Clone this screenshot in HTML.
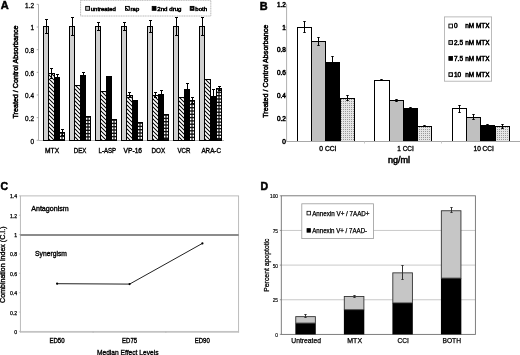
<!DOCTYPE html><html><head><meta charset="utf-8"><style>html,body{margin:0;padding:0;background:#fff;width:520px;height:355px;overflow:hidden}svg{display:block;filter:blur(0.45px)}text{font-family:"Liberation Sans", sans-serif;stroke:#000;stroke-width:0.5px;paint-order:stroke}</style></head><body>
<svg width="520" height="355" viewBox="0 0 520 355">
<defs><pattern id="hatch" patternUnits="userSpaceOnUse" x="0" y="0" width="4" height="4"><rect width="4" height="4" fill="#000"/><path d="M0,0 L1.3,0 L4,2.70 L4,4 L2.70,4 L0,1.3 Z M2.70,0 L4,0 L4,1.3 Z M0,2.70 L1.3,4 L0,4 Z" fill="#fff"/></pattern><pattern id="dotsA" patternUnits="userSpaceOnUse" x="0" y="0" width="2" height="2"><rect width="2" height="2" fill="#fff"/><rect width="1" height="1" fill="#000"/><rect x="1" y="1" width="1" height="1" fill="#555"/></pattern><pattern id="dotsB" patternUnits="userSpaceOnUse" x="0" y="0" width="2" height="2"><rect width="2" height="2" fill="#e6e6e6"/><rect x="1" y="1" width="1" height="1" fill="#9a9a9a"/></pattern></defs>
<rect width="520" height="355" fill="#fff"/>
<text x="0.70" y="8.60" font-size="11.0" font-weight="bold">A</text>
<line x1="38.50" y1="4.30" x2="38.50" y2="140.30" stroke="#9a9a9a" stroke-width="0.8"/>
<line x1="38.50" y1="140.50" x2="224.00" y2="140.50" stroke="#b8b8b8" stroke-width="1.0"/>
<line x1="36.70" y1="140.30" x2="38.50" y2="140.30" stroke="#9a9a9a" stroke-width="0.8"/>
<text x="34.00" y="143.60" font-size="6.4" text-anchor="end" style="stroke-width:0.3px">0</text>
<line x1="36.70" y1="117.64" x2="38.50" y2="117.64" stroke="#9a9a9a" stroke-width="0.8"/>
<text x="34.00" y="120.94" font-size="6.4" text-anchor="end" style="stroke-width:0.3px">0.2</text>
<line x1="36.70" y1="94.98" x2="38.50" y2="94.98" stroke="#9a9a9a" stroke-width="0.8"/>
<text x="34.00" y="98.28" font-size="6.4" text-anchor="end" style="stroke-width:0.3px">0.4</text>
<line x1="36.70" y1="72.32" x2="38.50" y2="72.32" stroke="#9a9a9a" stroke-width="0.8"/>
<text x="34.00" y="75.62" font-size="6.4" text-anchor="end" style="stroke-width:0.3px">0.6</text>
<line x1="36.70" y1="49.66" x2="38.50" y2="49.66" stroke="#9a9a9a" stroke-width="0.8"/>
<text x="34.00" y="52.96" font-size="6.4" text-anchor="end" style="stroke-width:0.3px">0.8</text>
<line x1="36.70" y1="27.00" x2="38.50" y2="27.00" stroke="#9a9a9a" stroke-width="0.8"/>
<text x="34.00" y="30.30" font-size="6.4" text-anchor="end" style="stroke-width:0.3px">1</text>
<line x1="36.70" y1="4.34" x2="38.50" y2="4.34" stroke="#9a9a9a" stroke-width="0.8"/>
<text x="34.00" y="7.64" font-size="6.4" text-anchor="end" style="stroke-width:0.3px">1.2</text>
<text x="17.70" y="72.00" font-size="7.0" text-anchor="middle" textLength="93.00" lengthAdjust="spacingAndGlyphs" transform="rotate(-90 17.70 72.00)">Treated / Control Absorbance</text>
<rect x="43.50" y="26.50" width="5.00" height="114.00" fill="#d0d0d0" stroke="#000" stroke-width="1.0"/>
<rect x="48.50" y="73.50" width="6.00" height="67.00" fill="url(#hatch)" stroke="#000" stroke-width="1.0"/>
<rect x="54.50" y="77.50" width="5.00" height="63.00" fill="#000" stroke="#000" stroke-width="1.0"/>
<rect x="59.50" y="132.50" width="5.00" height="8.00" fill="#111" stroke="#000" stroke-width="1.0"/>
<rect x="60.00" y="133.80" width="1.4" height="1.9" fill="#fff"/>
<rect x="62.60" y="133.80" width="1.4" height="1.9" fill="#fff"/>
<rect x="60.00" y="137.10" width="1.4" height="1.9" fill="#fff"/>
<rect x="62.60" y="137.10" width="1.4" height="1.9" fill="#fff"/>
<path d="M46.50 19.50V33.50M45.00 19.50H48.00M45.00 33.50H48.00" stroke="#000" stroke-width="1" fill="none"/>
<path d="M51.50 68.50V78.50M50.00 68.50H53.00M50.00 78.50H53.00" stroke="#000" stroke-width="1" fill="none"/>
<path d="M57.50 74.50V80.50M56.00 74.50H59.00M56.00 80.50H59.00" stroke="#000" stroke-width="1" fill="none"/>
<path d="M62.50 129.50V135.50M61.00 129.50H64.00M61.00 135.50H64.00" stroke="#000" stroke-width="1" fill="none"/>
<text x="52.10" y="152.50" font-size="6.6" text-anchor="middle" textLength="14.00" lengthAdjust="spacingAndGlyphs" style="stroke-width:0.35px">MTX</text>
<rect x="69.50" y="26.50" width="5.00" height="114.00" fill="#d0d0d0" stroke="#000" stroke-width="1.0"/>
<rect x="74.50" y="85.50" width="6.00" height="55.00" fill="url(#hatch)" stroke="#000" stroke-width="1.0"/>
<rect x="80.50" y="75.50" width="5.00" height="65.00" fill="#000" stroke="#000" stroke-width="1.0"/>
<rect x="85.50" y="116.50" width="5.00" height="24.00" fill="#111" stroke="#000" stroke-width="1.0"/>
<rect x="86.00" y="117.80" width="1.4" height="1.9" fill="#fff"/>
<rect x="88.60" y="117.80" width="1.4" height="1.9" fill="#fff"/>
<rect x="86.00" y="121.10" width="1.4" height="1.9" fill="#fff"/>
<rect x="88.60" y="121.10" width="1.4" height="1.9" fill="#fff"/>
<rect x="86.00" y="124.40" width="1.4" height="1.9" fill="#fff"/>
<rect x="88.60" y="124.40" width="1.4" height="1.9" fill="#fff"/>
<rect x="86.00" y="127.70" width="1.4" height="1.9" fill="#fff"/>
<rect x="88.60" y="127.70" width="1.4" height="1.9" fill="#fff"/>
<rect x="86.00" y="131.00" width="1.4" height="1.9" fill="#fff"/>
<rect x="88.60" y="131.00" width="1.4" height="1.9" fill="#fff"/>
<rect x="86.00" y="134.30" width="1.4" height="1.9" fill="#fff"/>
<rect x="88.60" y="134.30" width="1.4" height="1.9" fill="#fff"/>
<rect x="86.00" y="137.60" width="1.4" height="1.9" fill="#fff"/>
<rect x="88.60" y="137.60" width="1.4" height="1.9" fill="#fff"/>
<path d="M72.50 17.50V35.50M71.00 17.50H74.00M71.00 35.50H74.00" stroke="#000" stroke-width="1" fill="none"/>
<path d="M83.50 72.50V78.50M82.00 72.50H85.00M82.00 78.50H85.00" stroke="#000" stroke-width="1" fill="none"/>
<text x="80.00" y="152.50" font-size="6.6" text-anchor="middle" textLength="12.50" lengthAdjust="spacingAndGlyphs" style="stroke-width:0.35px">DEX</text>
<rect x="95.50" y="26.50" width="5.00" height="114.00" fill="#d0d0d0" stroke="#000" stroke-width="1.0"/>
<rect x="100.50" y="91.50" width="6.00" height="49.00" fill="url(#hatch)" stroke="#000" stroke-width="1.0"/>
<rect x="106.50" y="76.50" width="5.00" height="64.00" fill="#000" stroke="#000" stroke-width="1.0"/>
<rect x="111.50" y="119.50" width="5.00" height="21.00" fill="#111" stroke="#000" stroke-width="1.0"/>
<rect x="112.00" y="120.80" width="1.4" height="1.9" fill="#fff"/>
<rect x="114.60" y="120.80" width="1.4" height="1.9" fill="#fff"/>
<rect x="112.00" y="124.10" width="1.4" height="1.9" fill="#fff"/>
<rect x="114.60" y="124.10" width="1.4" height="1.9" fill="#fff"/>
<rect x="112.00" y="127.40" width="1.4" height="1.9" fill="#fff"/>
<rect x="114.60" y="127.40" width="1.4" height="1.9" fill="#fff"/>
<rect x="112.00" y="130.70" width="1.4" height="1.9" fill="#fff"/>
<rect x="114.60" y="130.70" width="1.4" height="1.9" fill="#fff"/>
<rect x="112.00" y="134.00" width="1.4" height="1.9" fill="#fff"/>
<rect x="114.60" y="134.00" width="1.4" height="1.9" fill="#fff"/>
<rect x="112.00" y="137.30" width="1.4" height="1.9" fill="#fff"/>
<rect x="114.60" y="137.30" width="1.4" height="1.9" fill="#fff"/>
<path d="M98.50 22.50V30.50M97.00 22.50H100.00M97.00 30.50H100.00" stroke="#000" stroke-width="1" fill="none"/>
<text x="107.30" y="152.50" font-size="6.6" text-anchor="middle" textLength="17.50" lengthAdjust="spacingAndGlyphs" style="stroke-width:0.35px">L-ASP</text>
<rect x="121.50" y="26.50" width="5.00" height="114.00" fill="#d0d0d0" stroke="#000" stroke-width="1.0"/>
<rect x="126.50" y="95.50" width="6.00" height="45.00" fill="url(#hatch)" stroke="#000" stroke-width="1.0"/>
<rect x="132.50" y="100.50" width="5.00" height="40.00" fill="#000" stroke="#000" stroke-width="1.0"/>
<rect x="137.50" y="122.50" width="5.00" height="18.00" fill="#111" stroke="#000" stroke-width="1.0"/>
<rect x="138.00" y="123.80" width="1.4" height="1.9" fill="#fff"/>
<rect x="140.60" y="123.80" width="1.4" height="1.9" fill="#fff"/>
<rect x="138.00" y="127.10" width="1.4" height="1.9" fill="#fff"/>
<rect x="140.60" y="127.10" width="1.4" height="1.9" fill="#fff"/>
<rect x="138.00" y="130.40" width="1.4" height="1.9" fill="#fff"/>
<rect x="140.60" y="130.40" width="1.4" height="1.9" fill="#fff"/>
<rect x="138.00" y="133.70" width="1.4" height="1.9" fill="#fff"/>
<rect x="140.60" y="133.70" width="1.4" height="1.9" fill="#fff"/>
<rect x="138.00" y="137.00" width="1.4" height="1.9" fill="#fff"/>
<rect x="140.60" y="137.00" width="1.4" height="1.9" fill="#fff"/>
<path d="M124.50 22.50V30.50M123.00 22.50H126.00M123.00 30.50H126.00" stroke="#000" stroke-width="1" fill="none"/>
<path d="M129.50 92.50V97.50M128.00 92.50H131.00M128.00 97.50H131.00" stroke="#000" stroke-width="1" fill="none"/>
<text x="132.80" y="152.50" font-size="6.6" text-anchor="middle" textLength="18.50" lengthAdjust="spacingAndGlyphs" style="stroke-width:0.35px">VP-16</text>
<rect x="147.50" y="26.50" width="5.00" height="114.00" fill="#d0d0d0" stroke="#000" stroke-width="1.0"/>
<rect x="152.50" y="95.50" width="6.00" height="45.00" fill="url(#hatch)" stroke="#000" stroke-width="1.0"/>
<rect x="158.50" y="94.50" width="5.00" height="46.00" fill="#000" stroke="#000" stroke-width="1.0"/>
<rect x="163.50" y="114.50" width="5.00" height="26.00" fill="#111" stroke="#000" stroke-width="1.0"/>
<rect x="164.00" y="115.80" width="1.4" height="1.9" fill="#fff"/>
<rect x="166.60" y="115.80" width="1.4" height="1.9" fill="#fff"/>
<rect x="164.00" y="119.10" width="1.4" height="1.9" fill="#fff"/>
<rect x="166.60" y="119.10" width="1.4" height="1.9" fill="#fff"/>
<rect x="164.00" y="122.40" width="1.4" height="1.9" fill="#fff"/>
<rect x="166.60" y="122.40" width="1.4" height="1.9" fill="#fff"/>
<rect x="164.00" y="125.70" width="1.4" height="1.9" fill="#fff"/>
<rect x="166.60" y="125.70" width="1.4" height="1.9" fill="#fff"/>
<rect x="164.00" y="129.00" width="1.4" height="1.9" fill="#fff"/>
<rect x="166.60" y="129.00" width="1.4" height="1.9" fill="#fff"/>
<rect x="164.00" y="132.30" width="1.4" height="1.9" fill="#fff"/>
<rect x="166.60" y="132.30" width="1.4" height="1.9" fill="#fff"/>
<rect x="164.00" y="135.60" width="1.4" height="1.9" fill="#fff"/>
<rect x="166.60" y="135.60" width="1.4" height="1.9" fill="#fff"/>
<path d="M150.50 20.50V32.50M149.00 20.50H152.00M149.00 32.50H152.00" stroke="#000" stroke-width="1" fill="none"/>
<path d="M155.50 92.50V97.50M154.00 92.50H157.00M154.00 97.50H157.00" stroke="#000" stroke-width="1" fill="none"/>
<path d="M161.50 90.50V99.50M160.00 90.50H163.00M160.00 99.50H163.00" stroke="#000" stroke-width="1" fill="none"/>
<text x="158.30" y="152.50" font-size="6.6" text-anchor="middle" textLength="13.60" lengthAdjust="spacingAndGlyphs" style="stroke-width:0.35px">DOX</text>
<rect x="173.50" y="26.50" width="5.00" height="114.00" fill="#d0d0d0" stroke="#000" stroke-width="1.0"/>
<rect x="178.50" y="97.50" width="6.00" height="43.00" fill="url(#hatch)" stroke="#000" stroke-width="1.0"/>
<rect x="184.50" y="89.50" width="5.00" height="51.00" fill="#000" stroke="#000" stroke-width="1.0"/>
<rect x="189.50" y="100.50" width="5.00" height="40.00" fill="#111" stroke="#000" stroke-width="1.0"/>
<rect x="190.00" y="101.80" width="1.4" height="1.9" fill="#fff"/>
<rect x="192.60" y="101.80" width="1.4" height="1.9" fill="#fff"/>
<rect x="190.00" y="105.10" width="1.4" height="1.9" fill="#fff"/>
<rect x="192.60" y="105.10" width="1.4" height="1.9" fill="#fff"/>
<rect x="190.00" y="108.40" width="1.4" height="1.9" fill="#fff"/>
<rect x="192.60" y="108.40" width="1.4" height="1.9" fill="#fff"/>
<rect x="190.00" y="111.70" width="1.4" height="1.9" fill="#fff"/>
<rect x="192.60" y="111.70" width="1.4" height="1.9" fill="#fff"/>
<rect x="190.00" y="115.00" width="1.4" height="1.9" fill="#fff"/>
<rect x="192.60" y="115.00" width="1.4" height="1.9" fill="#fff"/>
<rect x="190.00" y="118.30" width="1.4" height="1.9" fill="#fff"/>
<rect x="192.60" y="118.30" width="1.4" height="1.9" fill="#fff"/>
<rect x="190.00" y="121.60" width="1.4" height="1.9" fill="#fff"/>
<rect x="192.60" y="121.60" width="1.4" height="1.9" fill="#fff"/>
<rect x="190.00" y="124.90" width="1.4" height="1.9" fill="#fff"/>
<rect x="192.60" y="124.90" width="1.4" height="1.9" fill="#fff"/>
<rect x="190.00" y="128.20" width="1.4" height="1.9" fill="#fff"/>
<rect x="192.60" y="128.20" width="1.4" height="1.9" fill="#fff"/>
<rect x="190.00" y="131.50" width="1.4" height="1.9" fill="#fff"/>
<rect x="192.60" y="131.50" width="1.4" height="1.9" fill="#fff"/>
<rect x="190.00" y="134.80" width="1.4" height="1.9" fill="#fff"/>
<rect x="192.60" y="134.80" width="1.4" height="1.9" fill="#fff"/>
<rect x="190.00" y="138.10" width="1.4" height="1.9" fill="#fff"/>
<rect x="192.60" y="138.10" width="1.4" height="1.9" fill="#fff"/>
<path d="M176.50 17.50V35.50M175.00 17.50H178.00M175.00 35.50H178.00" stroke="#000" stroke-width="1" fill="none"/>
<path d="M187.50 83.50V95.50M186.00 83.50H189.00M186.00 95.50H189.00" stroke="#000" stroke-width="1" fill="none"/>
<path d="M192.50 97.50V103.50M191.00 97.50H194.00M191.00 103.50H194.00" stroke="#000" stroke-width="1" fill="none"/>
<text x="184.00" y="152.50" font-size="6.6" text-anchor="middle" textLength="12.90" lengthAdjust="spacingAndGlyphs" style="stroke-width:0.35px">VCR</text>
<rect x="199.50" y="26.50" width="5.00" height="114.00" fill="#d0d0d0" stroke="#000" stroke-width="1.0"/>
<rect x="204.50" y="79.50" width="6.00" height="61.00" fill="url(#hatch)" stroke="#000" stroke-width="1.0"/>
<rect x="210.50" y="96.50" width="6.00" height="44.00" fill="#000" stroke="#000" stroke-width="1.0"/>
<rect x="216.50" y="88.50" width="5.00" height="52.00" fill="#111" stroke="#000" stroke-width="1.0"/>
<rect x="217.00" y="89.80" width="1.4" height="1.9" fill="#fff"/>
<rect x="219.60" y="89.80" width="1.4" height="1.9" fill="#fff"/>
<rect x="217.00" y="93.10" width="1.4" height="1.9" fill="#fff"/>
<rect x="219.60" y="93.10" width="1.4" height="1.9" fill="#fff"/>
<rect x="217.00" y="96.40" width="1.4" height="1.9" fill="#fff"/>
<rect x="219.60" y="96.40" width="1.4" height="1.9" fill="#fff"/>
<rect x="217.00" y="99.70" width="1.4" height="1.9" fill="#fff"/>
<rect x="219.60" y="99.70" width="1.4" height="1.9" fill="#fff"/>
<rect x="217.00" y="103.00" width="1.4" height="1.9" fill="#fff"/>
<rect x="219.60" y="103.00" width="1.4" height="1.9" fill="#fff"/>
<rect x="217.00" y="106.30" width="1.4" height="1.9" fill="#fff"/>
<rect x="219.60" y="106.30" width="1.4" height="1.9" fill="#fff"/>
<rect x="217.00" y="109.60" width="1.4" height="1.9" fill="#fff"/>
<rect x="219.60" y="109.60" width="1.4" height="1.9" fill="#fff"/>
<rect x="217.00" y="112.90" width="1.4" height="1.9" fill="#fff"/>
<rect x="219.60" y="112.90" width="1.4" height="1.9" fill="#fff"/>
<rect x="217.00" y="116.20" width="1.4" height="1.9" fill="#fff"/>
<rect x="219.60" y="116.20" width="1.4" height="1.9" fill="#fff"/>
<rect x="217.00" y="119.50" width="1.4" height="1.9" fill="#fff"/>
<rect x="219.60" y="119.50" width="1.4" height="1.9" fill="#fff"/>
<rect x="217.00" y="122.80" width="1.4" height="1.9" fill="#fff"/>
<rect x="219.60" y="122.80" width="1.4" height="1.9" fill="#fff"/>
<rect x="217.00" y="126.10" width="1.4" height="1.9" fill="#fff"/>
<rect x="219.60" y="126.10" width="1.4" height="1.9" fill="#fff"/>
<rect x="217.00" y="129.40" width="1.4" height="1.9" fill="#fff"/>
<rect x="219.60" y="129.40" width="1.4" height="1.9" fill="#fff"/>
<rect x="217.00" y="132.70" width="1.4" height="1.9" fill="#fff"/>
<rect x="219.60" y="132.70" width="1.4" height="1.9" fill="#fff"/>
<rect x="217.00" y="136.00" width="1.4" height="1.9" fill="#fff"/>
<rect x="219.60" y="136.00" width="1.4" height="1.9" fill="#fff"/>
<path d="M202.50 17.50V35.50M201.00 17.50H204.00M201.00 35.50H204.00" stroke="#000" stroke-width="1" fill="none"/>
<path d="M213.50 89.50V103.50M212.00 89.50H215.00M212.00 103.50H215.00" stroke="#000" stroke-width="1" fill="none"/>
<path d="M219.50 86.50V90.50M218.00 86.50H221.00M218.00 90.50H221.00" stroke="#000" stroke-width="1" fill="none"/>
<text x="211.20" y="152.50" font-size="6.6" text-anchor="middle" textLength="19.60" lengthAdjust="spacingAndGlyphs" style="stroke-width:0.35px">ARA-C</text>
<rect x="80.6" y="0.3" width="130.2" height="15.7" fill="#fff" stroke="#a8a8a8" stroke-width="0.8" stroke-dasharray="1.2,0.5"/>
<rect x="85.70" y="6.40" width="3.80" height="3.90" fill="#c0c0c0" stroke="#000" stroke-width="0.9"/>
<text x="90.80" y="11.00" font-size="6.0" textLength="25.00" lengthAdjust="spacingAndGlyphs">untreated</text>
<rect x="125.50" y="6.40" width="3.80" height="3.90" fill="url(#hatch)" stroke="#000" stroke-width="0.9"/>
<text x="130.60" y="11.00" font-size="6.0" textLength="8.60" lengthAdjust="spacingAndGlyphs">rap</text>
<rect x="152.20" y="6.40" width="3.80" height="3.90" fill="#000" stroke="#000" stroke-width="0.9"/>
<text x="157.30" y="11.00" font-size="6.0" textLength="24.20" lengthAdjust="spacingAndGlyphs">2nd drug</text>
<rect x="190.20" y="6.40" width="3.80" height="3.90" fill="#111" stroke="#000" stroke-width="0.9"/>
<rect x="191.60" y="7.80" width="1.10" height="1.10" fill="#ddd"/>
<text x="195.30" y="11.00" font-size="6.0" textLength="11.80" lengthAdjust="spacingAndGlyphs">both</text>
<text x="259.80" y="9.50" font-size="10.9" font-weight="bold">B</text>
<line x1="286.60" y1="4.30" x2="286.60" y2="141.30" stroke="#9a9a9a" stroke-width="0.8"/>
<line x1="284.80" y1="141.30" x2="286.60" y2="141.30" stroke="#9a9a9a" stroke-width="0.8"/>
<text x="285.80" y="143.80" font-size="6.4" text-anchor="end">0</text>
<line x1="284.80" y1="118.46" x2="286.60" y2="118.46" stroke="#9a9a9a" stroke-width="0.8"/>
<text x="285.80" y="120.96" font-size="6.4" text-anchor="end">0.2</text>
<line x1="284.80" y1="95.62" x2="286.60" y2="95.62" stroke="#9a9a9a" stroke-width="0.8"/>
<text x="285.80" y="98.12" font-size="6.4" text-anchor="end">0.4</text>
<line x1="284.80" y1="72.78" x2="286.60" y2="72.78" stroke="#9a9a9a" stroke-width="0.8"/>
<text x="285.80" y="75.28" font-size="6.4" text-anchor="end">0.6</text>
<line x1="284.80" y1="49.94" x2="286.60" y2="49.94" stroke="#9a9a9a" stroke-width="0.8"/>
<text x="285.80" y="52.44" font-size="6.4" text-anchor="end">0.8</text>
<line x1="284.80" y1="27.10" x2="286.60" y2="27.10" stroke="#9a9a9a" stroke-width="0.8"/>
<text x="285.80" y="29.60" font-size="6.4" text-anchor="end">1</text>
<line x1="284.80" y1="4.26" x2="286.60" y2="4.26" stroke="#9a9a9a" stroke-width="0.8"/>
<text x="285.80" y="6.76" font-size="6.4" text-anchor="end">1.2</text>
<text x="267.80" y="71.30" font-size="7.0" text-anchor="middle" textLength="93.00" lengthAdjust="spacingAndGlyphs" transform="rotate(-90 267.80 71.30)">Treated / Control Absorbance</text>
<rect x="297.50" y="27.50" width="14.00" height="114.00" fill="#fff" stroke="#000" stroke-width="1.0"/>
<rect x="311.50" y="41.50" width="14.00" height="100.00" fill="#c0c0c0" stroke="#000" stroke-width="1.0"/>
<rect x="325.50" y="62.50" width="14.00" height="79.00" fill="#000" stroke="#000" stroke-width="1.0"/>
<rect x="340.50" y="98.50" width="14.00" height="43.00" fill="url(#dotsB)" stroke="#000" stroke-width="1.0"/>
<path d="M304.50 21.50V32.50M303.30 21.50H305.70M303.30 32.50H305.70" stroke="#000" stroke-width="1" fill="none"/>
<path d="M318.50 37.50V45.50M317.30 37.50H319.70M317.30 45.50H319.70" stroke="#000" stroke-width="1" fill="none"/>
<path d="M332.50 56.50V67.50M331.30 56.50H333.70M331.30 67.50H333.70" stroke="#000" stroke-width="1" fill="none"/>
<path d="M347.50 95.50V100.50M346.30 95.50H348.70M346.30 100.50H348.70" stroke="#000" stroke-width="1" fill="none"/>
<text x="327.90" y="150.70" font-size="6.6" text-anchor="middle" textLength="17.20" lengthAdjust="spacingAndGlyphs" style="stroke-width:0.35px">0 CCI</text>
<rect x="374.50" y="80.50" width="15.00" height="61.00" fill="#fff" stroke="#000" stroke-width="1.0"/>
<rect x="389.50" y="100.50" width="14.00" height="41.00" fill="#c0c0c0" stroke="#000" stroke-width="1.0"/>
<rect x="403.50" y="108.50" width="14.00" height="33.00" fill="#000" stroke="#000" stroke-width="1.0"/>
<rect x="417.50" y="126.50" width="14.00" height="15.00" fill="url(#dotsB)" stroke="#000" stroke-width="1.0"/>
<path d="M381.50 79.50V80.50M380.30 79.50H382.70M380.30 80.50H382.70" stroke="#000" stroke-width="1" fill="none"/>
<path d="M396.50 99.50V101.50M395.30 99.50H397.70M395.30 101.50H397.70" stroke="#000" stroke-width="1" fill="none"/>
<path d="M410.50 107.50V109.50M409.30 107.50H411.70M409.30 109.50H411.70" stroke="#000" stroke-width="1" fill="none"/>
<path d="M424.50 125.50V126.50M423.30 125.50H425.70M423.30 126.50H425.70" stroke="#000" stroke-width="1" fill="none"/>
<text x="405.50" y="150.70" font-size="6.6" text-anchor="middle" textLength="16.50" lengthAdjust="spacingAndGlyphs" style="stroke-width:0.35px">1 CCI</text>
<rect x="452.50" y="108.50" width="14.00" height="33.00" fill="#fff" stroke="#000" stroke-width="1.0"/>
<rect x="466.50" y="117.50" width="14.00" height="24.00" fill="#c0c0c0" stroke="#000" stroke-width="1.0"/>
<rect x="480.50" y="125.50" width="14.00" height="16.00" fill="#000" stroke="#000" stroke-width="1.0"/>
<rect x="495.50" y="126.50" width="14.00" height="15.00" fill="url(#dotsB)" stroke="#000" stroke-width="1.0"/>
<path d="M459.50 105.50V112.50M458.30 105.50H460.70M458.30 112.50H460.70" stroke="#000" stroke-width="1" fill="none"/>
<path d="M473.50 114.50V119.50M472.30 114.50H474.70M472.30 119.50H474.70" stroke="#000" stroke-width="1" fill="none"/>
<path d="M487.50 124.50V125.50M486.30 124.50H488.70M486.30 125.50H488.70" stroke="#000" stroke-width="1" fill="none"/>
<path d="M502.50 124.50V128.50M501.30 124.50H503.70M501.30 128.50H503.70" stroke="#000" stroke-width="1" fill="none"/>
<text x="483.70" y="150.70" font-size="6.6" text-anchor="middle" textLength="20.30" lengthAdjust="spacingAndGlyphs" style="stroke-width:0.35px">10 CCI</text>
<line x1="286.60" y1="141.50" x2="520.00" y2="141.50" stroke="#a8a8a8" stroke-width="1.0"/>
<line x1="364.50" y1="141.50" x2="364.50" y2="143.50" stroke="#c8c8c8" stroke-width="1.0"/>
<line x1="441.50" y1="141.50" x2="441.50" y2="143.50" stroke="#c8c8c8" stroke-width="1.0"/>
<text x="399.00" y="163.20" font-size="8.6" text-anchor="middle" textLength="22.20" lengthAdjust="spacingAndGlyphs">ng/ml</text>
<rect x="444.40" y="16.90" width="47.20" height="64.30" fill="#fff" stroke="#aaa" stroke-width="0.8"/>
<rect x="448.90" y="24.10" width="3.60" height="3.80" fill="#fff" stroke="#000" stroke-width="0.9"/>
<text x="454.00" y="28.30" font-size="6.5" textLength="3.60" lengthAdjust="spacingAndGlyphs">0</text>
<text x="465.30" y="28.30" font-size="6.5" textLength="24.20" lengthAdjust="spacingAndGlyphs">nM MTX</text>
<rect x="448.90" y="40.60" width="3.60" height="3.80" fill="#c0c0c0" stroke="#000" stroke-width="0.9"/>
<text x="454.00" y="44.80" font-size="6.5" textLength="9.00" lengthAdjust="spacingAndGlyphs">2.5</text>
<text x="465.30" y="44.80" font-size="6.5" textLength="24.20" lengthAdjust="spacingAndGlyphs">nM MTX</text>
<rect x="448.90" y="56.50" width="3.60" height="3.80" fill="#000" stroke="#000" stroke-width="0.9"/>
<text x="454.00" y="60.70" font-size="6.5" textLength="9.00" lengthAdjust="spacingAndGlyphs">7.5</text>
<text x="465.30" y="60.70" font-size="6.5" textLength="24.20" lengthAdjust="spacingAndGlyphs">nM MTX</text>
<rect x="448.90" y="72.70" width="3.60" height="3.80" fill="url(#dotsB)" stroke="#000" stroke-width="0.9"/>
<text x="454.00" y="76.90" font-size="6.5" textLength="7.20" lengthAdjust="spacingAndGlyphs">10</text>
<text x="465.30" y="76.90" font-size="6.5" textLength="24.20" lengthAdjust="spacingAndGlyphs">nM MTX</text>
<text x="0.60" y="189.80" font-size="10.5" font-weight="bold">C</text>
<rect x="20.40" y="195.90" width="218.20" height="135.50" fill="none" stroke="#b4b4b4" stroke-width="0.9"/>
<line x1="20.40" y1="332.00" x2="238.60" y2="332.00" stroke="#c4c4c4" stroke-width="1.6"/>
<line x1="18.90" y1="331.40" x2="20.40" y2="331.40" stroke="#b4b4b4" stroke-width="0.7"/>
<text x="17.20" y="333.90" font-size="5.2" text-anchor="end" style="stroke-width:0.25px">0</text>
<line x1="18.90" y1="312.04" x2="20.40" y2="312.04" stroke="#b4b4b4" stroke-width="0.7"/>
<text x="17.20" y="314.54" font-size="5.2" text-anchor="end" style="stroke-width:0.25px">0.2</text>
<line x1="18.90" y1="292.69" x2="20.40" y2="292.69" stroke="#b4b4b4" stroke-width="0.7"/>
<text x="17.20" y="295.19" font-size="5.2" text-anchor="end" style="stroke-width:0.25px">0.4</text>
<line x1="18.90" y1="273.33" x2="20.40" y2="273.33" stroke="#b4b4b4" stroke-width="0.7"/>
<text x="17.20" y="275.83" font-size="5.2" text-anchor="end" style="stroke-width:0.25px">0.6</text>
<line x1="18.90" y1="253.97" x2="20.40" y2="253.97" stroke="#b4b4b4" stroke-width="0.7"/>
<text x="17.20" y="256.47" font-size="5.2" text-anchor="end" style="stroke-width:0.25px">0.8</text>
<line x1="18.90" y1="234.61" x2="20.40" y2="234.61" stroke="#b4b4b4" stroke-width="0.7"/>
<text x="17.20" y="237.11" font-size="5.2" text-anchor="end" style="stroke-width:0.25px">1</text>
<line x1="18.90" y1="215.26" x2="20.40" y2="215.26" stroke="#b4b4b4" stroke-width="0.7"/>
<text x="17.20" y="217.76" font-size="5.2" text-anchor="end" style="stroke-width:0.25px">1.2</text>
<line x1="18.90" y1="195.90" x2="20.40" y2="195.90" stroke="#b4b4b4" stroke-width="0.7"/>
<text x="17.20" y="198.40" font-size="5.2" text-anchor="end" style="stroke-width:0.25px">1.4</text>
<line x1="20.40" y1="331.40" x2="20.40" y2="332.90" stroke="#b4b4b4" stroke-width="0.7"/>
<line x1="93.13" y1="331.40" x2="93.13" y2="332.90" stroke="#b4b4b4" stroke-width="0.7"/>
<line x1="165.87" y1="331.40" x2="165.87" y2="332.90" stroke="#b4b4b4" stroke-width="0.7"/>
<line x1="238.60" y1="331.40" x2="238.60" y2="332.90" stroke="#b4b4b4" stroke-width="0.7"/>
<line x1="20.40" y1="235.00" x2="238.60" y2="235.00" stroke="#666" stroke-width="1.5"/>
<text x="5.20" y="264.70" font-size="7.0" text-anchor="middle" textLength="76.40" lengthAdjust="spacingAndGlyphs" transform="rotate(-90 5.20 264.70)" style="stroke-width:0.35px">Combination Index (C.I.)</text>
<text x="31.20" y="210.60" font-size="7.2" textLength="37.60" lengthAdjust="spacingAndGlyphs" style="stroke-width:0.35px">Antagonism</text>
<text x="35.10" y="255.80" font-size="7.2" textLength="31.80" lengthAdjust="spacingAndGlyphs" style="stroke-width:0.35px">Synergism</text>
<polyline points="57.10,283.70 129.60,284.10 202.40,243.40" fill="none" stroke="#222" stroke-width="1"/>
<circle cx="57.10" cy="283.70" r="1.1" fill="#000"/>
<circle cx="129.60" cy="284.10" r="1.1" fill="#000"/>
<circle cx="202.40" cy="243.40" r="1.1" fill="#000"/>
<text x="57.00" y="343.40" font-size="6.6" text-anchor="middle" textLength="15.20" lengthAdjust="spacingAndGlyphs" style="stroke-width:0.35px">ED50</text>
<text x="129.60" y="343.40" font-size="6.6" text-anchor="middle" textLength="15.00" lengthAdjust="spacingAndGlyphs" style="stroke-width:0.35px">ED75</text>
<text x="202.30" y="343.40" font-size="6.6" text-anchor="middle" textLength="15.00" lengthAdjust="spacingAndGlyphs" style="stroke-width:0.35px">ED90</text>
<text x="127.70" y="355.00" font-size="7.6" text-anchor="middle" textLength="61.60" lengthAdjust="spacingAndGlyphs" style="stroke-width:0.35px">Median Effect Levels</text>
<text x="260.60" y="189.80" font-size="10.5" font-weight="bold">D</text>
<line x1="281.30" y1="299.75" x2="475.40" y2="299.75" stroke="#bbbbbb" stroke-width="0.8"/>
<line x1="281.30" y1="265.10" x2="475.40" y2="265.10" stroke="#bbbbbb" stroke-width="0.8"/>
<line x1="281.30" y1="230.45" x2="475.40" y2="230.45" stroke="#bbbbbb" stroke-width="0.8"/>
<rect x="281.30" y="195.80" width="194.10" height="138.60" fill="none" stroke="#707070" stroke-width="0.9"/>
<line x1="279.80" y1="334.40" x2="281.30" y2="334.40" stroke="#707070" stroke-width="0.7"/>
<text x="278.00" y="337.00" font-size="4.8" text-anchor="end" style="stroke-width:0.15px">0</text>
<line x1="279.80" y1="299.75" x2="281.30" y2="299.75" stroke="#707070" stroke-width="0.7"/>
<text x="278.00" y="302.35" font-size="4.8" text-anchor="end" style="stroke-width:0.15px">25</text>
<line x1="279.80" y1="265.10" x2="281.30" y2="265.10" stroke="#707070" stroke-width="0.7"/>
<text x="278.00" y="267.70" font-size="4.8" text-anchor="end" style="stroke-width:0.15px">50</text>
<line x1="279.80" y1="230.45" x2="281.30" y2="230.45" stroke="#707070" stroke-width="0.7"/>
<text x="278.00" y="233.05" font-size="4.8" text-anchor="end" style="stroke-width:0.15px">75</text>
<line x1="279.80" y1="195.80" x2="281.30" y2="195.80" stroke="#707070" stroke-width="0.7"/>
<text x="278.00" y="198.40" font-size="4.8" text-anchor="end" style="stroke-width:0.15px">100</text>
<text x="269.00" y="265.10" font-size="6.9" text-anchor="middle" textLength="53.30" lengthAdjust="spacingAndGlyphs" transform="rotate(-90 269.00 265.10)" style="stroke-width:0.25px">Percent apoptotic</text>
<rect x="295.36" y="323.10" width="20.40" height="11.30" fill="#000"/>
<rect x="295.76" y="316.64" width="19.60" height="6.46" fill="#c6c6c6" stroke="#333" stroke-width="0.9"/>
<path d="M305.50 314.50V317.50M304.40 314.50H306.60M304.40 317.50H306.60" stroke="#333" stroke-width="1" fill="none"/>
<text x="306.16" y="343.40" font-size="6.8" text-anchor="middle" textLength="29.60" lengthAdjust="spacingAndGlyphs" style="stroke-width:0.25px">Untreated</text>
<rect x="343.89" y="309.73" width="20.40" height="24.67" fill="#000"/>
<rect x="344.29" y="296.55" width="19.60" height="13.18" fill="#c6c6c6" stroke="#333" stroke-width="0.9"/>
<path d="M354.50 295.50V297.50M353.40 295.50H355.60M353.40 297.50H355.60" stroke="#333" stroke-width="1" fill="none"/>
<text x="354.69" y="343.40" font-size="6.8" text-anchor="middle" textLength="14.80" lengthAdjust="spacingAndGlyphs" style="stroke-width:0.25px">MTX</text>
<rect x="392.41" y="302.94" width="20.40" height="31.46" fill="#000"/>
<rect x="392.81" y="272.85" width="19.60" height="30.09" fill="#c6c6c6" stroke="#333" stroke-width="0.9"/>
<path d="M402.50 265.50V279.50M401.40 265.50H403.60M401.40 279.50H403.60" stroke="#333" stroke-width="1" fill="none"/>
<text x="403.21" y="343.40" font-size="6.8" text-anchor="middle" textLength="11.40" lengthAdjust="spacingAndGlyphs" style="stroke-width:0.25px">CCI</text>
<rect x="440.94" y="278.13" width="20.40" height="56.27" fill="#000"/>
<rect x="441.34" y="210.75" width="19.60" height="67.38" fill="#c6c6c6" stroke="#333" stroke-width="0.9"/>
<path d="M451.50 207.50V212.50M450.40 207.50H452.60M450.40 212.50H452.60" stroke="#333" stroke-width="1" fill="none"/>
<text x="451.74" y="343.40" font-size="6.8" text-anchor="middle" textLength="18.60" lengthAdjust="spacingAndGlyphs" style="stroke-width:0.25px">BOTH</text>
<rect x="301.80" y="203.80" width="71.80" height="34.80" fill="#fff" stroke="#9a9a9a" stroke-width="0.8"/>
<rect x="307.00" y="211.30" width="3.40" height="3.60" fill="#fff" stroke="#000" stroke-width="0.8"/>
<text x="312.20" y="215.80" font-size="6.3" textLength="57.30" lengthAdjust="spacingAndGlyphs" style="stroke-width:0.25px">Annexin V+ / 7AAD+</text>
<rect x="307.00" y="228.60" width="3.40" height="3.60" fill="#000" stroke="#000" stroke-width="0.8"/>
<text x="312.20" y="232.60" font-size="6.3" textLength="55.00" lengthAdjust="spacingAndGlyphs" style="stroke-width:0.25px">Annexin V+ / 7AAD-</text>
</svg></body></html>
